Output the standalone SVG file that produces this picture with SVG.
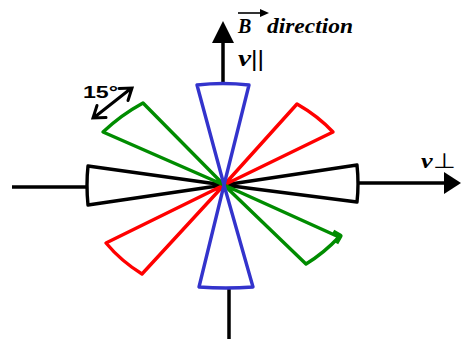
<svg xmlns="http://www.w3.org/2000/svg" width="461" height="339" viewBox="0 0 461 339">
<style>
.cone{fill:#fff;stroke-width:3.4;stroke-linejoin:round}
.ax{stroke:#000;stroke-width:3.5;fill:none}
.lbl{font-family:"Liberation Serif",serif;font-weight:bold;font-style:italic;fill:#000}
</style>
<g id="axes">
<line class="ax" x1="12" y1="187" x2="90" y2="187"/>
<line class="ax" x1="355" y1="183" x2="446" y2="183"/>
<path d="M444,172 L461,183 L444,194 z" fill="#000"/>
<line class="ax" x1="223" y1="87" x2="223" y2="40" stroke-width="4"/>
<path d="M212,43 L223,21 L234,43 z" fill="#000"/>
<line class="ax" x1="229" y1="286" x2="229" y2="339" stroke-width="4"/>
</g>
<g id="cone-black">
<path class="cone" stroke="#000" d="M224,185 L88,166 Q86,185 88,205 Z M224,185 L357,165 Q359,184 357,202 Z"/>
</g>
<g id="cone-red">
<path class="cone" stroke="#ff0000" d="M224,185 L297,104 Q318,116 333,132 Z M224,185 L106,243 Q121,261 142,274 Z"/>
</g>
<g id="cone-green">
<path class="cone" stroke="#008c00" d="M224,185 L103,132 Q121,115 143,103 Z M224,185 L339,237 Q324,253 306,264 Z"/>
<path d="M333,232 L340,236 L336,243" fill="none" stroke="#008c00" stroke-width="5" stroke-linejoin="round"/>
</g>
<g id="cone-blue">
<path class="cone" stroke="#3333cc" d="M224,185 L197,85 Q223,82 249,85 Z M224,185 L199,287 Q226,289 253,287 Z"/>
</g>
<g id="labels">
<text class="lbl" x="238" y="33" font-size="20">B</text>
<line x1="238" y1="13" x2="262" y2="13" stroke="#000" stroke-width="1.6"/>
<path d="M260,9 L269,13 L260,17 z" fill="#000"/>
<text class="lbl" x="267" y="33" font-size="20" textLength="86" lengthAdjust="spacingAndGlyphs">direction</text>
<text x="238" y="66" font-family="Liberation Serif,serif" font-size="24" fill="#000" textLength="26" lengthAdjust="spacingAndGlyphs"><tspan font-weight="bold" font-style="italic" fill="#000">v</tspan><tspan font-weight="bold" fill="#000">||</tspan></text>
<text x="421" y="168" font-family="Liberation Serif,serif" font-size="21" fill="#000" textLength="34" lengthAdjust="spacingAndGlyphs"><tspan font-weight="bold" font-style="italic" fill="#000">v</tspan><tspan fill="#000">⊥</tspan></text>
<text x="83" y="98" font-family="Liberation Sans,sans-serif" font-weight="bold" font-size="16" fill="#000" textLength="35" lengthAdjust="spacingAndGlyphs">15°</text>
<path d="M96,116 L129,90 M119,88.5 L132,88 L128,100.5 M97,105.5 L93,118 L106,117.5" fill="none" stroke="#000" stroke-width="3" stroke-linejoin="miter" stroke-linecap="round"/>
</g>
</svg>
